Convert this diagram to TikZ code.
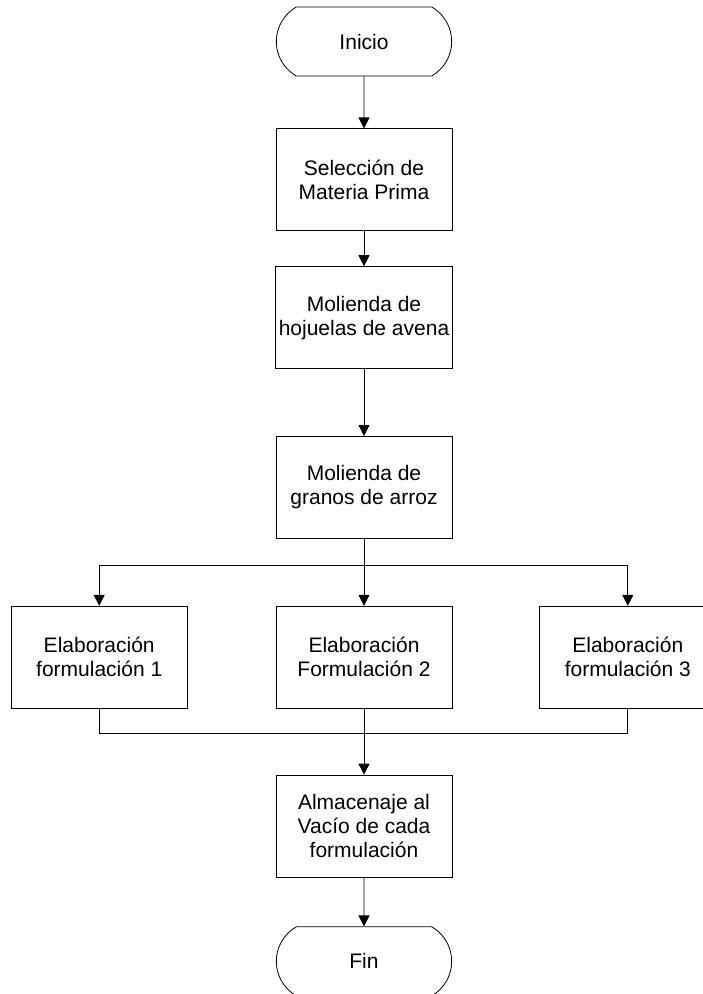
\documentclass[tikz,border=0pt]{standalone}
\usepackage{fontspec}
\setmainfont{Liberation Sans}
\usetikzlibrary{arrows.meta, positioning, shapes.misc}

\begin{document}
\begin{tikzpicture}[
    proc/.style={
        rectangle, draw=black, line width=0.8pt,
        minimum width=176pt, minimum height=102pt,
        align=center, font=\fontsize{21}{24}\selectfont
    },
    term/.style={
        rounded rectangle, rounded rectangle arc length=120,
        draw=black, line width=0.8pt,
        minimum width=182pt, minimum height=69pt,
        font=\fontsize{21}{24}\selectfont
    },
    arr/.style={-{Triangle[length=11pt, width=11pt]}, line width=0.8pt},
    lin/.style={line width=0.8pt}
]
\clip (0pt,0pt) rectangle (703pt,-994pt);

% Nodes
\node[term] (inicio) at (364pt,-41.5pt) {Inicio};
\node[proc, below=52pt of inicio] (seleccion) {Selección de\\Materia Prima};
\node[proc, below=35pt of seleccion] (avena) {Molienda de\\hojuelas de avena};
\node[proc, below=67pt of avena] (arroz) {Molienda de\\granos de arroz};
\node[proc, below=67pt of arroz] (form2) {Elaboración\\Formulación 2};
\node[proc, left=88pt of form2] (form1) {Elaboración\\formulación 1};
\node[proc, right=87pt of form2] (form3) {Elaboración\\formulación 3};
\node[proc, below=66pt of form2] (almacen) {Almacenaje al\\Vacío de cada\\formulación};
\node[term, below=49pt of almacen] (fin) {Fin};

% Branch and join points
\coordinate[below=27pt of arroz] (rama);
\coordinate[below=25pt of form2] (union);

% Arrows
\draw[arr] (inicio) -- (seleccion);
\draw[arr] (seleccion) -- (avena);
\draw[arr] (avena) -- (arroz);
\draw[arr] (arroz) -- (form2);
\draw[arr] (rama) -| (form1);
\draw[arr] (rama) -| (form3);
\draw[lin] (form1.south) |- (union) -| (form3.south);
\draw[lin] (form2) -- (union);
\draw[arr] (union) -- (almacen);
\draw[arr] (almacen) -- (fin);

\end{tikzpicture}
\end{document}
